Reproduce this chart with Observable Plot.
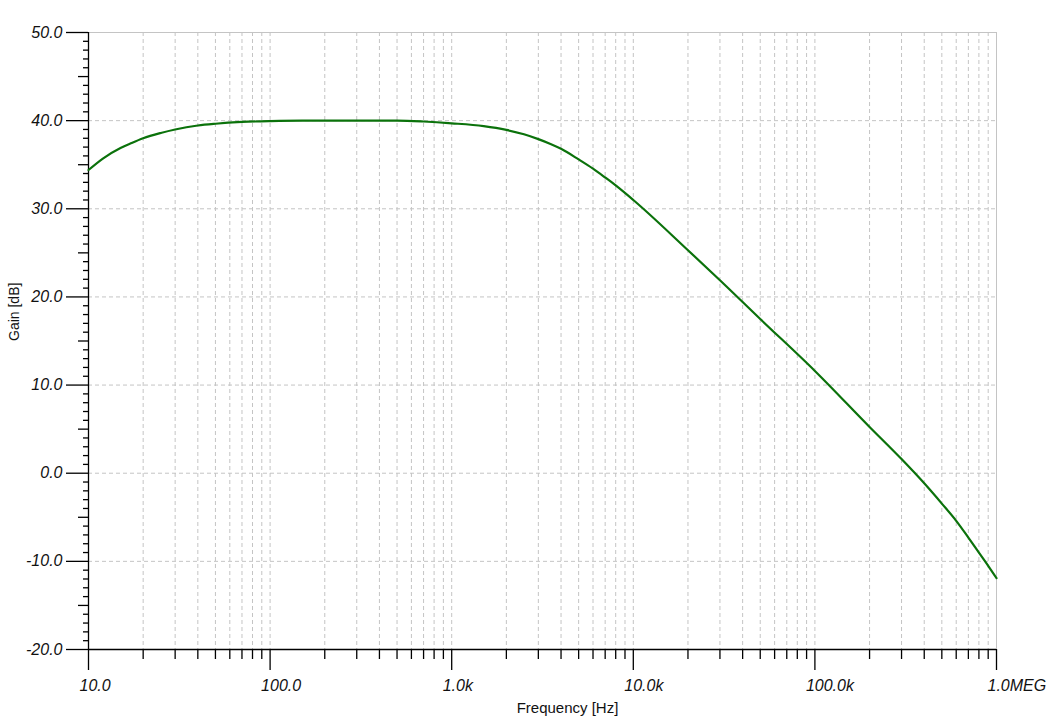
<!DOCTYPE html>
<html>
<head>
<meta charset="utf-8">
<script src="https://cdn.jsdelivr.net/npm/d3@7"></script>
<script src="https://cdn.jsdelivr.net/npm/@observablehq/plot@0.6"></script>
<style>
  html, body { margin: 0; padding: 0; background: #fff; }
</style>
</head>
<body>
<div id="chart"></div>
<script>
// Frequency response (Hz) and gain (dB)
const freqs = [10, 12, 15, 17, 20, 25, 30, 40, 50, 70, 100, 150, 200, 300, 500, 700,
  1000, 1500, 2000, 2500, 3000, 3500, 4000, 5000, 6000, 7000, 8000, 10000, 20000, 30000,
  50000, 100000, 200000, 300000, 400000, 500000, 600000, 700000, 800000, 900000, 1000000];
const gains = [34.4, 35.7, 36.9, 37.4, 38.0, 38.6, 39.0, 39.45, 39.65, 39.85, 39.95, 40.0,
  40.0, 40.0, 40.0, 39.9, 39.7, 39.38, 38.95, 38.45, 37.9, 37.35, 36.8, 35.6, 34.55, 33.55,
  32.65, 31.0, 25.3, 21.9, 17.5, 11.6, 5.25, 1.6, -1.15, -3.45, -5.4, -7.3, -9.0, -10.5, -11.9];

// Axis ticks and labels
const xMajor = [10, 100, 1000, 10000, 100000, 1000000];
const xMajorLabels = ["10.0", "100.0", "1.0k", "10.0k", "100.0k", "1.0MEG"];
const xMultipliers = [2, 3, 4, 5, 6, 7, 8, 9];
const yMajor = [-20, -10, 0, 10, 20, 30, 40, 50];
const yMajorLabels = ["-20.0", "-10.0", "0.0", "10.0", "20.0", "30.0", "40.0", "50.0"];
const yMid = [-15, -5, 5, 15, 25, 35, 45];
const xTitle = "Frequency [Hz]";
const yTitle = "Gain [dB]";

const xMinor = xMajor.slice(0, -1).flatMap(d => xMultipliers.map(k => d * k));
const yMinor = d3.range(-20, 51, 1).filter(v => v % 5 !== 0);
const data = freqs.map((f, i) => ({f, g: gains[i]}));

const gridColor = "#c4c4c4";
const dash = "4,3";
const font = "'Liberation Sans', Arial, sans-serif";

const chart = Plot.plot({
  width: 1047,
  height: 728,
  marginTop: 32,
  marginBottom: 79,
  marginLeft: 88,
  marginRight: 51,
  style: {fontFamily: font, background: "#fff", color: "#000"},
  x: {type: "log", domain: [10, 1000000]},
  y: {domain: [-20, 50]},
  marks: [
    // grid
    Plot.ruleX(xMinor, {x: d => d, stroke: gridColor, strokeDasharray: dash, strokeWidth: 1}),
    Plot.ruleX(xMajor.slice(1, -1), {x: d => d, stroke: gridColor, strokeDasharray: dash, strokeWidth: 1}),
    Plot.ruleY(yMajor.slice(1, -1), {y: d => d, stroke: gridColor, strokeDasharray: dash, strokeWidth: 1}),
    // frame borders (top, right)
    Plot.ruleY([50], {y: d => d, stroke: gridColor, strokeWidth: 1}),
    Plot.ruleX([1000000], {x: d => d, stroke: gridColor, strokeWidth: 1}),
    // axes lines
    Plot.ruleY([-20], {y: d => d, stroke: "#000", strokeWidth: 1.3}),
    Plot.ruleX([10], {x: d => d, stroke: "#000", strokeWidth: 1.3}),
    // x ticks
    Plot.axisX(xMinor, {anchor: "bottom", tickSize: 10, tickFormat: () => "", label: null, stroke: "#000", strokeWidth: 1.3}),
    Plot.axisX(xMajor, {anchor: "bottom", tickSize: 21, tickFormat: () => "", label: null, stroke: "#000", strokeWidth: 1.3}),
    // y ticks
    Plot.axisY(yMinor, {anchor: "left", tickSize: 5, tickFormat: () => "", label: null, stroke: "#000", strokeWidth: 1.3}),
    Plot.axisY(yMid, {anchor: "left", tickSize: 10, tickFormat: () => "", label: null, stroke: "#000", strokeWidth: 1.3}),
    Plot.axisY(yMajor, {anchor: "left", tickSize: 22, tickFormat: () => "", label: null, stroke: "#000", strokeWidth: 1.3}),
    // tick labels
    Plot.text(xMajor, {x: d => d, y: () => -20, text: (d, i) => xMajorLabels[i], dy: 36, dx: -9,
      textAnchor: "start", lineAnchor: "middle", fontSize: 16, fontStyle: "italic", fill: "#111"}),
    Plot.text(yMajor, {y: d => d, frameAnchor: "left", text: (d, i) => yMajorLabels[i], dx: -26,
      textAnchor: "end", lineAnchor: "middle", fontSize: 16, fontStyle: "italic", fill: "#111"}),
    // axis titles
    Plot.text([xTitle], {frameAnchor: "bottom", text: d => d, dx: 25, dy: 59, lineAnchor: "middle",
      fontSize: 15, fill: "#111"}),
    Plot.text([yTitle], {frameAnchor: "left", text: d => d, dx: -74, rotate: -90, lineAnchor: "middle",
      fontSize: 14, fill: "#111"}),
    // curve
    Plot.line(data, {x: "f", y: "g", stroke: "#0b720b", strokeWidth: 2.2, curve: "monotone-x"})
  ]
});
document.getElementById("chart").appendChild(chart);
</script>
</body>
</html>
